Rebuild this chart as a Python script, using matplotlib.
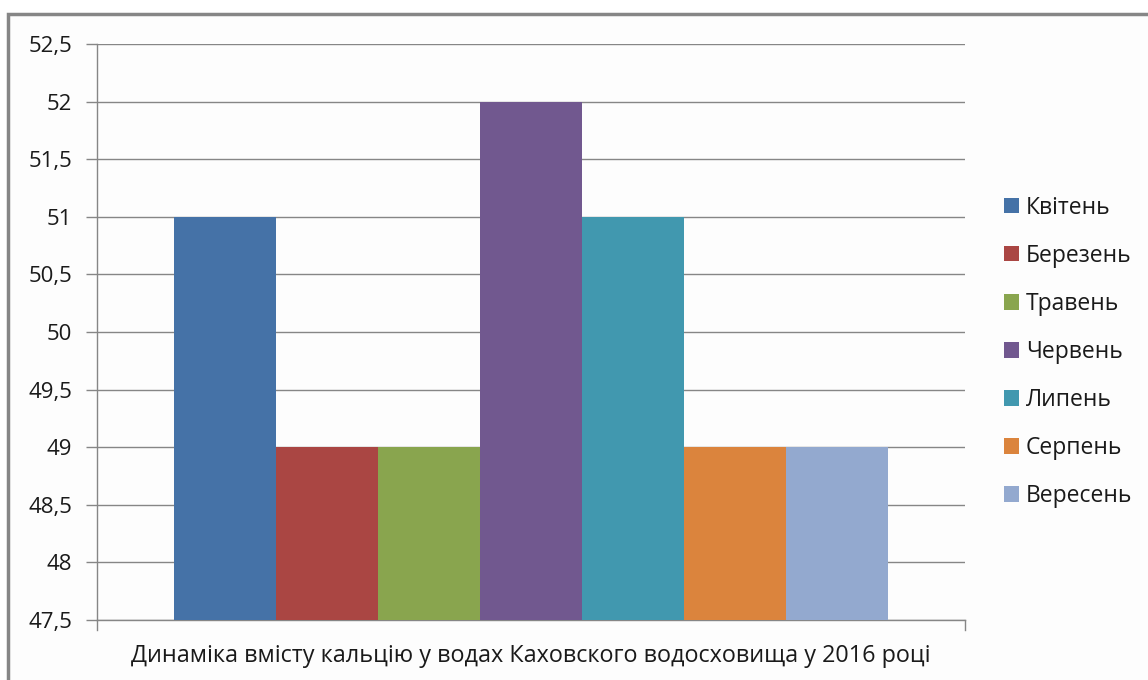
import matplotlib
matplotlib.use("Agg")
import matplotlib.pyplot as plt
from matplotlib.patches import Rectangle
import numpy as np

plt.rcParams['font.family'] = ['Open Sans', 'DejaVu Sans']

# Monthly calcium content, one series per month
months = ["Квітень", "Березень", "Травень", "Червень", "Липень", "Серпень", "Вересень"]
values = [51, 49, 49, 52, 51, 49, 49]
colors = ["#4572A7", "#AA4643", "#89A54E", "#71588F", "#4198AF", "#DB843D", "#93A9CF"]
category = "Динаміка вмісту кальцію у водах Каховского водосховища у 2016 році"
y_ticks = [47.5, 48, 48.5, 49, 49.5, 50, 50.5, 51, 51.5, 52, 52.5]
y_labels = [f"{t:g}".replace(".", ",") for t in y_ticks]

W, H = 1148, 680
fig = plt.figure(figsize=(W / 100, H / 100), dpi=100)
fig.patch.set_facecolor("white")

# Outer chart frame, kept behind the axes
frame = Rectangle((8 / W, -0.05), 1.1, (H - 14) / H + 0.05,
                  transform=fig.transFigure, fill=True,
                  facecolor="#fdfdfd", edgecolor="#868686",
                  linewidth=2.5, zorder=-10)
fig.patches.append(frame)

left, right, top, bottom = 97, 965, 44, 620
ax = fig.add_axes([left / W, 1 - bottom / H, (right - left) / W, (bottom - top) / H])
ax.set_facecolor("none")

n = len(values)
group = 0.822
bw = group / n
offsets = (np.arange(n) - (n - 1) / 2) * bw
base = y_ticks[0]
for off, v, c, m in zip(offsets, values, colors, months):
    ax.bar(off, v - base, bottom=base, width=bw, color=c, label=m,
           edgecolor="none", zorder=3)

ax.set_xlim(-0.5, 0.5)
ax.set_ylim(y_ticks[0], y_ticks[-1])
ax.set_yticks(y_ticks)
ax.set_yticklabels(y_labels, fontsize=16, color="#1a1a1a")
ax.set_xticks([0])
ax.set_xticklabels([category], fontsize=16.8, color="#1a1a1a")
ax.tick_params(axis="x", length=0, pad=17)
ax.tick_params(axis="y", length=8, width=1, color="#868686", pad=10, direction="out")

ax.grid(axis="y", color="#868686", linewidth=1, zorder=0)
for s in ["top", "right"]:
    ax.spines[s].set_visible(False)
for s in ["left", "bottom"]:
    ax.spines[s].set_color("#868686")
    ax.spines[s].set_linewidth(1)

# Small downward ticks at both ends of the category axis
for xe in (-0.5, 0.5):
    ax.plot([xe, xe], [base, base - 0.09], color="#868686", lw=1,
            clip_on=False, zorder=3)

leg = fig.legend(loc="center left", bbox_to_anchor=(995 / W, 1 - 352 / H),
                 frameon=False, fontsize=16.5, handlelength=0.65, handleheight=0.65,
                 handletextpad=0.3, labelspacing=1.05, borderaxespad=0)
for t in leg.get_texts():
    t.set_color("#1a1a1a")

fig.savefig("out.png", dpi=100, facecolor=fig.get_facecolor())
